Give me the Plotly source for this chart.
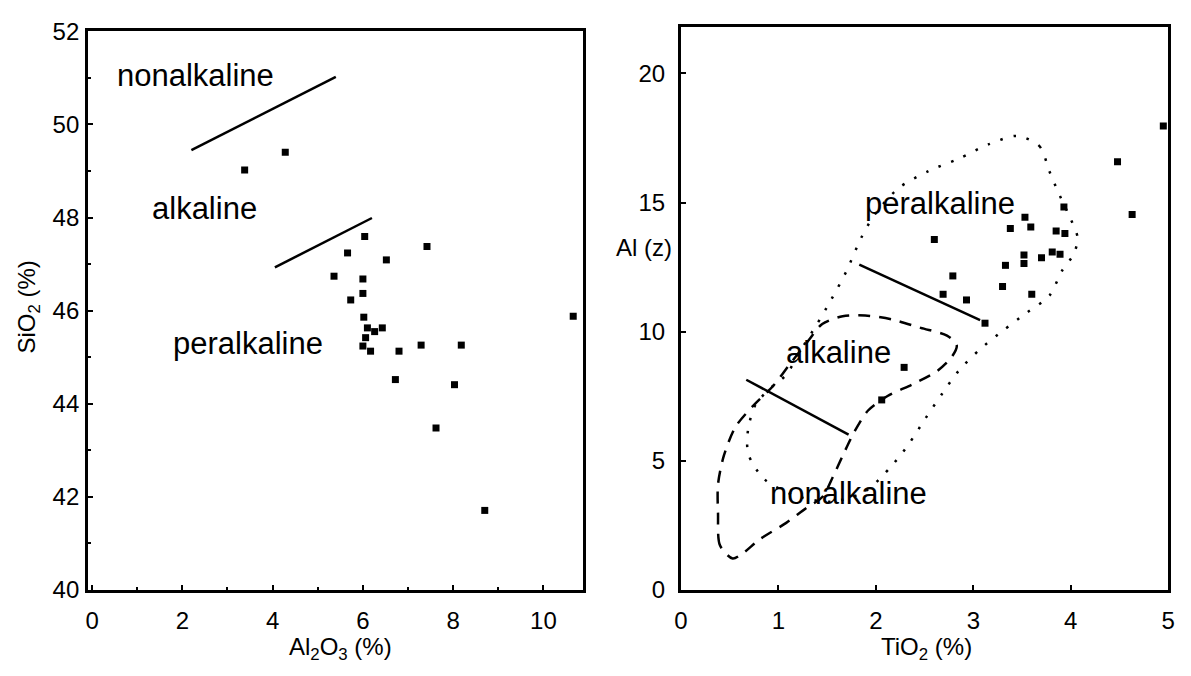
import plotly.graph_objects as go

# ---- Left panel data: Al2O3 vs SiO2 ----
left_al2o3 = [3.38, 4.28, 6.04, 5.66, 7.42, 6.52, 5.36, 6.0, 6.0, 5.73, 6.02, 6.1, 6.43,
              6.26, 6.06, 6.0, 6.17, 6.8, 7.29, 8.18, 6.72, 8.03, 7.62, 8.7, 10.66]
left_sio2 = [49.02, 49.4, 47.59, 47.24, 47.38, 47.09, 46.74, 46.68, 46.37, 46.23, 45.86, 45.63, 45.63,
             45.55, 45.42, 45.24, 45.13, 45.13, 45.26, 45.26, 44.52, 44.41, 43.48, 41.71, 45.88]

# boundary lines (left)
left_line1_x = [2.2, 5.4]
left_line1_y = [49.45, 51.02]
left_line2_x = [4.05, 6.2]
left_line2_y = [46.93, 47.99]

left_labels = ["nonalkaline", "alkaline", "peralkaline"]
left_label_x = [2.3, 2.5, 3.46]
left_label_y = [51.05, 48.2, 45.3]

# ---- Right panel data: TiO2 vs Al(z) ----
right_tio2 = [4.48, 4.63, 3.93, 3.53, 3.38, 3.59, 3.85, 3.94, 2.6, 3.52, 3.52, 3.7, 3.81, 3.89,
              3.33, 2.79, 3.3, 3.6, 2.69, 2.93, 3.12, 4.95, 2.29, 2.06]
right_alz = [16.58, 14.54, 14.83, 14.43, 14.0, 14.05, 13.9, 13.8, 13.57, 12.97, 12.64, 12.86, 13.09, 13.0,
             12.57, 12.16, 11.75, 11.45, 11.45, 11.23, 10.33, 17.96, 8.62, 7.36]

right_line1_x = [1.83, 3.07]
right_line1_y = [12.6, 10.45]
right_line2_x = [0.67, 1.72]
right_line2_y = [8.14, 6.02]

# alkaline field (dashed outline)
dash_x = [0.53, 0.40, 0.38, 0.38, 0.44, 0.56, 0.75, 0.95, 1.13, 1.31, 1.45, 1.66, 1.89, 2.16, 2.46,
          2.73, 2.83, 2.78, 2.63, 2.39, 2.12, 1.92, 1.77, 1.66, 1.56, 1.45, 1.28, 1.08, 0.81, 0.63, 0.53]
dash_y = [1.22, 1.73, 2.97, 4.09, 5.2, 6.32, 7.17, 7.92, 8.81, 9.67, 10.3, 10.6, 10.63, 10.48, 10.15,
          9.85, 9.48, 9.03, 8.48, 7.99, 7.51, 6.95, 6.06, 5.2, 4.39, 3.6, 3.16, 2.6, 1.97, 1.41, 1.22]

# peralkaline field (dotted outline)
dot_x = [3.45, 3.68, 3.78, 3.87, 3.97, 4.07, 4.03, 3.91, 3.78, 3.55, 3.30, 3.06, 2.85, 2.68, 2.51,
         2.33, 2.16, 1.89, 1.54, 1.16, 0.85, 0.69, 0.69, 0.77, 0.93, 1.08, 1.23, 1.39, 1.54, 1.70,
         1.85, 2.0, 2.24, 2.54, 2.85, 3.16, 3.45]
dot_y = [17.58, 17.18, 16.22, 15.41, 14.6, 13.64, 13.0, 12.36, 11.39, 10.74, 10.03, 9.29, 8.49, 7.6, 6.65,
         5.61, 4.8, 3.82, 3.42, 3.67, 4.31, 5.28, 6.25, 7.21, 7.85, 8.33, 9.29, 10.26, 11.23, 12.36,
         13.64, 14.6, 15.58, 16.22, 16.7, 17.26, 17.58]

right_labels = ["peralkaline", "alkaline", "nonalkaline"]
right_label_x = [2.66, 1.62, 1.72]
right_label_y = [14.98, 9.18, 3.72]

FONT = "Liberation Sans, Arial, sans-serif"
W, H = 1191, 676

fig = go.Figure()

mk = dict(symbol="square", size=7, color="black")
fig.add_trace(go.Scatter(x=left_al2o3, y=left_sio2, mode="markers", marker=mk,
                         xaxis="x", yaxis="y", showlegend=False))
for lx, ly in [(left_line1_x, left_line1_y), (left_line2_x, left_line2_y)]:
    fig.add_trace(go.Scatter(x=lx, y=ly, mode="lines", line=dict(color="black", width=2.5),
                             xaxis="x", yaxis="y", showlegend=False))

fig.add_trace(go.Scatter(x=dot_x, y=dot_y, mode="lines",
                         line=dict(color="black", width=2.5, dash="2.5px,11px", shape="spline", smoothing=0.8),
                         xaxis="x2", yaxis="y2", showlegend=False))
fig.add_trace(go.Scatter(x=dash_x, y=dash_y, mode="lines",
                         line=dict(color="black", width=2.5, dash="12px,9px", shape="spline", smoothing=0.8),
                         xaxis="x2", yaxis="y2", showlegend=False))
for lx, ly in [(right_line1_x, right_line1_y), (right_line2_x, right_line2_y)]:
    fig.add_trace(go.Scatter(x=lx, y=ly, mode="lines", line=dict(color="black", width=2.5),
                             xaxis="x2", yaxis="y2", showlegend=False))
fig.add_trace(go.Scatter(x=right_tio2, y=right_alz, mode="markers", marker=mk,
                         xaxis="x2", yaxis="y2", showlegend=False))

axcommon = dict(showline=True, linewidth=3, linecolor="black", mirror=True, showgrid=False,
                zeroline=False, ticks="inside", ticklen=5, tickwidth=2, tickcolor="black",
                tickfont=dict(family=FONT, size=24, color="black"))

fig.update_layout(
    width=W, height=H,
    margin=dict(l=0, r=0, t=0, b=0),
    paper_bgcolor="white", plot_bgcolor="white",
    xaxis=dict(domain=[82 / W, 583 / W], range=[-0.09, 10.88], tickvals=[0, 2, 4, 6, 8, 10],
               minor=dict(dtick=1, ticks="inside", ticklen=3, tickcolor="black"),
               anchor="y", ticklabelstandoff=7, **axcommon),
    yaxis=dict(domain=[1 - 600 / H, 1 - 18 / H], range=[40, 52.0], tickvals=[40, 42, 44, 46, 48, 50, 52],
               minor=dict(dtick=1, ticks="inside", ticklen=3, tickcolor="black"),
               anchor="x", ticklabelstandoff=1, **axcommon),
    xaxis2=dict(domain=[682 / W, 1175 / W], range=[0, 5], tickvals=[0, 1, 2, 3, 4, 5],
                anchor="y2", ticklabelstandoff=7, **axcommon),
    yaxis2=dict(domain=[1 - 600 / H, 1 - 14 / H], range=[0, 21.78], tickvals=[0, 5, 10, 15, 20],
                anchor="x2", ticklabelstandoff=8, **axcommon),
)

ann = []
for t, x, y in zip(left_labels, left_label_x, left_label_y):
    ann.append(dict(text=t, x=x, y=y, xref="x", yref="y", showarrow=False,
                    xanchor="center", yanchor="middle",
                    font=dict(family=FONT, size=31, color="black")))
for t, x, y in zip(right_labels, right_label_x, right_label_y):
    ann.append(dict(text=t, x=x, y=y, xref="x2", yref="y2", showarrow=False,
                    xanchor="center", yanchor="middle",
                    font=dict(family=FONT, size=31, color="black")))

tfont = dict(family=FONT, size=24, color="black")
for txt, px, py, ang in [("SiO<sub>2</sub> (%)", 22, 305, -90),
                         ("Al<sub>2</sub>O<sub>3</sub> (%)", 337, 661, 0),
                         ("TiO<sub>2</sub> (%)", 930, 661, 0),
                         ("Al (z)", 645, 243, 0)]:
    ann.append(dict(text=txt, x=px / W, y=1 - py / H, xref="paper", yref="paper",
                    xanchor="center", yanchor="middle",
                    showarrow=False, textangle=ang, font=tfont))
fig.update_layout(annotations=ann)

fig.write_html("out.html",
               post_script="document.body.style.margin='0';document.body.style.overflow='hidden';")
